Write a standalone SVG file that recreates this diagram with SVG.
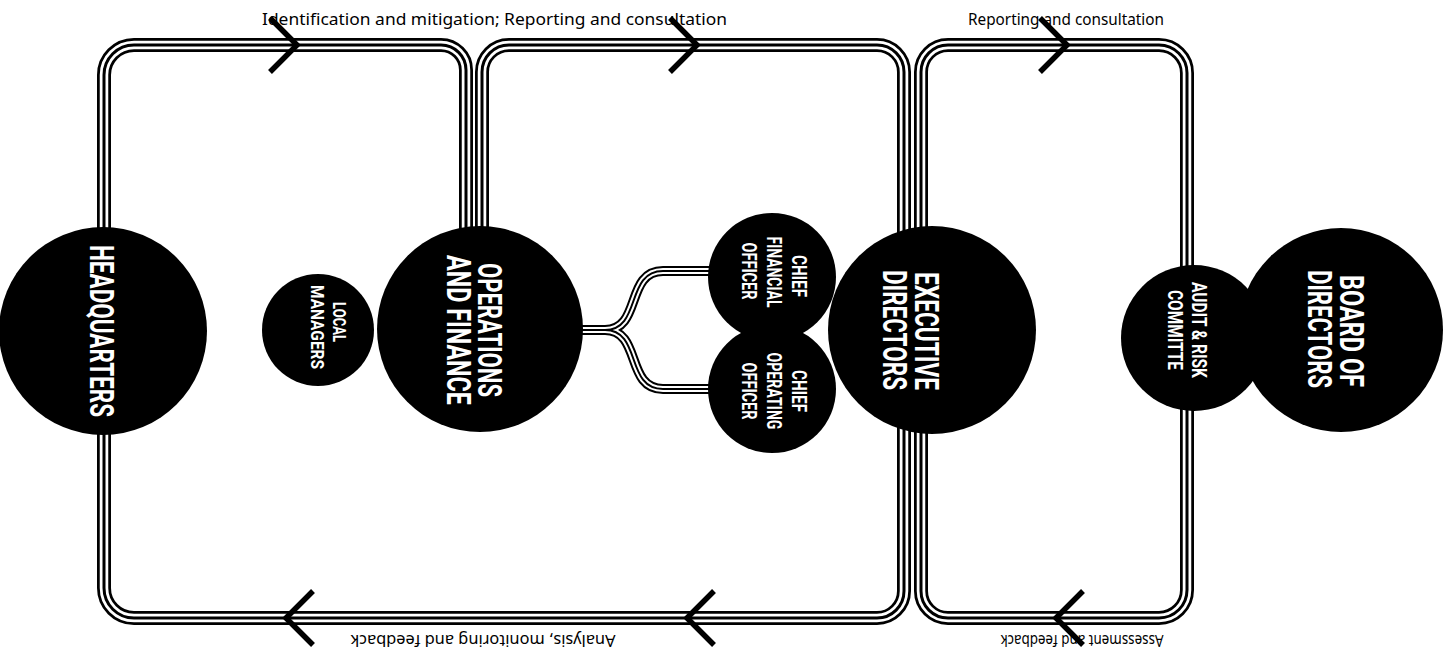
<svg xmlns="http://www.w3.org/2000/svg" width="1456" height="663" viewBox="0 0 1456 663">
<style>
.o{fill:none;stroke:#000;stroke-width:14}
.m{fill:none;stroke:#fff;stroke-width:8.5}
.i{fill:none;stroke:#000;stroke-width:3}
.bo{fill:none;stroke:#000;stroke-width:10}
.bm{fill:none;stroke:#fff;stroke-width:6}
.bi{fill:none;stroke:#000;stroke-width:2}
.chev{fill:none;stroke:#000;stroke-width:5.5;stroke-linejoin:miter}
.node{fill:#000}
.nt{fill:#fff;font-family:Roboto,"DejaVu Sans Condensed","Liberation Sans",sans-serif;font-weight:bold;text-anchor:middle}
.big{font-size:34px}
.small{font-size:21px}
.lbl{fill:#000;font-family:"Noto Sans","Open Sans",sans-serif;font-size:17px}
</style>
<defs>
<path id="p1" d="M104,240 V75 A30,30 0 0 1 134,45 H441 A25,25 0 0 1 466,70 V240"/>
<path id="p2" d="M482,240 V72 A27,27 0 0 1 509,45 H877 A27,27 0 0 1 904,72 V245"/>
<path id="p3" d="M921,245 V72 A27,27 0 0 1 948,45 H1159 A28,28 0 0 1 1187,73 V280"/>
<path id="p4" d="M1187,400 V590 A28,28 0 0 1 1159,618 H948 A27,27 0 0 1 921,591 V420"/>
<path id="p5" d="M904,420 V591 A27,27 0 0 1 877,618 H134 A30,30 0 0 1 104,588 V420"/>
<path id="b1" d="M570,330 H605 C642,330 625,271 663,271 H720"/>
<path id="b2" d="M570,330 H605 C642,330 625,389 663,389 H720"/>
</defs>
<rect width="1456" height="663" fill="#fff"/>
<g id="connectors">
<g class="o"><use href="#p1"/><use href="#p2"/><use href="#p3"/><use href="#p4"/><use href="#p5"/></g>
<g class="m"><use href="#p1"/><use href="#p2"/><use href="#p3"/><use href="#p4"/><use href="#p5"/></g>
<g class="i"><use href="#p1"/><use href="#p2"/><use href="#p3"/><use href="#p4"/><use href="#p5"/></g>
<g class="bo"><use href="#b1"/><use href="#b2"/></g>
<g class="bm"><use href="#b1"/><use href="#b2"/></g>
<g class="bi"><use href="#b1"/><use href="#b2"/></g>
<polyline class="chev" points="270,18 297,45 270,72"/>
<polyline class="chev" points="670,18 697,45 670,72"/>
<polyline class="chev" points="1040,18 1067,45 1040,72"/>
<polyline class="chev" points="313,591 286,618 313,645"/>
<polyline class="chev" points="714,591 687,618 714,645"/>
<polyline class="chev" points="1083,591 1056,618 1083,645"/>
</g>
<g id="labels">
<text class="lbl" x="262" y="25" textLength="465" lengthAdjust="spacingAndGlyphs">Identification and mitigation; Reporting and consultation</text>
<text class="lbl" x="968" y="25" textLength="196" lengthAdjust="spacingAndGlyphs">Reporting and consultation</text>
<text class="lbl" transform="translate(483,635) rotate(180)" text-anchor="middle" textLength="265" lengthAdjust="spacingAndGlyphs">Analysis, monitoring and feedback</text>
<text class="lbl" transform="translate(1082,635) rotate(180)" text-anchor="middle" textLength="163" lengthAdjust="spacingAndGlyphs">Assessment and feedback</text>
</g>
<g id="headquarters">
<circle class="node" cx="103" cy="331" r="104"/>
<text class="nt big" transform="translate(90,331) rotate(90)" textLength="172" lengthAdjust="spacingAndGlyphs">HEADQUARTERS</text>
</g>
<g id="local-managers">
<circle class="node" cx="318" cy="330" r="56"/>
<text class="nt" style="font-size:18px" transform="translate(333,322) rotate(90)" textLength="40" lengthAdjust="spacingAndGlyphs">LOCAL</text>
<text class="nt" style="font-size:18px" transform="translate(311,327) rotate(90)" textLength="84" lengthAdjust="spacingAndGlyphs">MANAGERS</text>
</g>
<g id="operations-finance">
<circle class="node" cx="480" cy="329" r="103"/>
<text class="nt big" transform="translate(478,330) rotate(90)" textLength="134" lengthAdjust="spacingAndGlyphs">OPERATIONS</text>
<text class="nt big" transform="translate(447,330) rotate(90)" textLength="150" lengthAdjust="spacingAndGlyphs">AND FINANCE</text>
</g>
<g id="cfo">
<circle class="node" cx="772" cy="277" r="64"/>
<text class="nt small" transform="translate(792,276) rotate(90)" textLength="42" lengthAdjust="spacingAndGlyphs">CHIEF</text>
<text class="nt small" transform="translate(767,272) rotate(90)" textLength="71" lengthAdjust="spacingAndGlyphs">FINANCIAL</text>
<text class="nt small" transform="translate(742,271) rotate(90)" textLength="57" lengthAdjust="spacingAndGlyphs">OFFICER</text>
</g>
<g id="coo">
<circle class="node" cx="772" cy="389" r="64"/>
<text class="nt small" transform="translate(792,391) rotate(90)" textLength="42" lengthAdjust="spacingAndGlyphs">CHIEF</text>
<text class="nt small" transform="translate(767,391) rotate(90)" textLength="77" lengthAdjust="spacingAndGlyphs">OPERATING</text>
<text class="nt small" transform="translate(742,391) rotate(90)" textLength="57" lengthAdjust="spacingAndGlyphs">OFFICER</text>
</g>
<g id="executive-directors">
<circle class="node" cx="932" cy="330" r="104"/>
<text class="nt big" transform="translate(915,331) rotate(90)" textLength="118" lengthAdjust="spacingAndGlyphs">EXECUTIVE</text>
<text class="nt big" transform="translate(883,330) rotate(90)" textLength="120" lengthAdjust="spacingAndGlyphs">DIRECTORS</text>
</g>
<g id="audit-risk">
<circle class="node" cx="1194" cy="338" r="73"/>
<text class="nt small" transform="translate(1192,330) rotate(90)" textLength="96" lengthAdjust="spacingAndGlyphs">AUDIT &amp; RISK</text>
<text class="nt small" transform="translate(1168,330) rotate(90)" textLength="80" lengthAdjust="spacingAndGlyphs">COMMITTE</text>
</g>
<g id="board-of-directors">
<circle class="node" cx="1341" cy="330" r="102"/>
<text class="nt big" transform="translate(1340,331) rotate(90)" textLength="112" lengthAdjust="spacingAndGlyphs">BOARD OF</text>
<text class="nt big" transform="translate(1308,329) rotate(90)" textLength="118" lengthAdjust="spacingAndGlyphs">DIRECTORS</text>
</g>
</svg>
